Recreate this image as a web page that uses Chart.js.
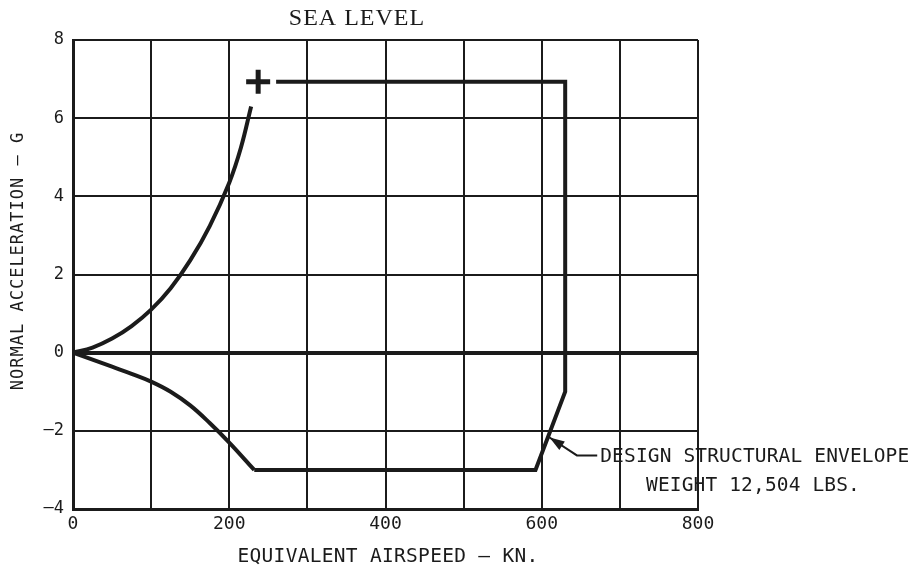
<!DOCTYPE html>
<html>
<head>
<meta charset="utf-8">
<script src="https://cdn.jsdelivr.net/npm/chart.js@4.4.1/dist/chart.umd.min.js"></script>
<style>
html,body{margin:0;padding:0;background:#fff;}
#wrap{width:913px;height:571px;}
</style>
</head>
<body>
<div id="wrap"><canvas id="chart" width="913" height="571"></canvas></div>
<script>
// V-n diagram, sea level
const titleText='SEA LEVEL';
const xTitle='EQUIVALENT AIRSPEED \u2013 KN.';
const yTitle='NORMAL ACCELERATION \u2013 G';
const noteLines=['DESIGN STRUCTURAL ENVELOPE','WEIGHT 12,504 LBS.'];

const xLabels=[0,200,400,600,800];   // labelled speeds, grid every 100
const yLabels=[-4,-2,0,2,4,6,8];

// positive stall boundary
const posSpeed=[0,25,50,75,100,125,150,175,200,215,228];
const posG=[0,0.13,0.36,0.68,1.1,1.65,2.36,3.24,4.35,5.25,6.3];
// negative stall boundary
const negSpeed=[0,25,50,75,100,125,150,175,200,232];
const negG=[0,-0.18,-0.36,-0.54,-0.74,-1.0,-1.35,-1.8,-2.3,-3];
// structural limits
const envSpeed=[260,630,630,592,232];
const envG=[6.93,6.93,-1,-3,-3];
// corner marker
const markSpeed=[237];
const markG=[6.93];
// leader of the note: tip, elbow, end
const noteSpeed=[610,645,671];
const noteG=[-2.17,-2.63,-2.63];

const pts=(xs,ys)=>xs.map((v,i)=>({x:v,y:ys[i]}));
const ink='#1b1b1b';
const mono='"DejaVu Sans Mono"';

const textPlugin={
  id:'texts',
  afterDraw(chart){
    const {ctx,scales:{x,y}}=chart;
    ctx.save();
    ctx.fillStyle=ink;
    ctx.strokeStyle=ink;
    // title
    ctx.font='24px "Liberation Serif"';
    ctx.textAlign='center';
    ctx.textBaseline='alphabetic';
    ctx.letterSpacing='1px';
    ctx.fillText(titleText,357,25);
    // axis titles
    ctx.font='19.5px '+mono;
    ctx.letterSpacing='0.3px';
    ctx.textBaseline='middle';
    ctx.fillText(xTitle,388,557);
    ctx.save();
    ctx.translate(19,261);
    ctx.rotate(-Math.PI/2);
    ctx.font='17px '+mono;
    ctx.letterSpacing='1px';
    ctx.fillText(yTitle,0,0);
    ctx.restore();
    // leader with arrow
    const p=noteSpeed.map((v,i)=>[x.getPixelForValue(v),y.getPixelForValue(noteG[i])]);
    ctx.lineWidth=2;
    ctx.beginPath();
    ctx.moveTo(p[0][0],p[0][1]);
    p.slice(1).forEach(q=>ctx.lineTo(q[0],q[1]));
    ctx.stroke();
    const a=Math.atan2(p[0][1]-p[1][1],p[0][0]-p[1][0]);
    ctx.beginPath();
    ctx.moveTo(p[0][0],p[0][1]);
    ctx.lineTo(p[0][0]-15*Math.cos(a)+5*Math.sin(a),p[0][1]-15*Math.sin(a)-5*Math.cos(a));
    ctx.lineTo(p[0][0]-15*Math.cos(a)-5*Math.sin(a),p[0][1]-15*Math.sin(a)+5*Math.cos(a));
    ctx.closePath();
    ctx.fill();
    // note text
    ctx.font='19.5px '+mono;
    ctx.letterSpacing='0.15px';
    ctx.textAlign='left';
    ctx.textBaseline='middle';
    ctx.fillText(noteLines[0],p[2][0]+3,p[2][1]+1);
    ctx.textAlign='center';
    ctx.fillText(noteLines[1],753,486);
    ctx.restore();
  }
};

new Chart(document.getElementById('chart'),{
  type:'scatter',
  data:{
    datasets:[
      {data:pts(posSpeed,posG),showLine:true,tension:0.4,borderColor:ink,borderWidth:4,pointRadius:0},
      {data:pts(negSpeed,negG),showLine:true,tension:0.4,borderColor:ink,borderWidth:4,pointRadius:0},
      {data:pts(envSpeed,envG),showLine:true,tension:0,borderColor:ink,borderWidth:4,pointRadius:0,borderJoinStyle:'miter'},
      {data:pts(markSpeed,markG),showLine:false,pointStyle:'cross',pointRadius:12,borderWidth:5,borderColor:ink}
    ]
  },
  options:{
    responsive:false,
    animation:false,
    layout:{padding:{top:40,right:215,left:0,bottom:0}},
    plugins:{legend:{display:false},tooltip:{enabled:false},title:{display:false}},
    scales:{
      x:{
        type:'linear',min:0,max:800,
        afterFit(s){s.height=62;},
        ticks:{stepSize:100,padding:5,color:ink,font:{family:'DejaVu Sans Mono',size:18},
          callback:v=>xLabels.includes(v)?String(v):''},
        grid:{color:ink,lineWidth:2,drawTicks:false},
        border:{color:ink,width:3}
      },
      y:{
        type:'linear',min:-4,max:8,
        afterFit(s){s.width=73;},
        ticks:{stepSize:2,padding:9,color:ink,font:{family:'DejaVu Sans Mono',size:17},
          callback:v=>yLabels.includes(v)?(v<0?'\u2013'+Math.abs(v):String(v)):''},
        grid:{color:ink,lineWidth:c=>c.tick&&c.tick.value===0?4:2,drawTicks:false},
        border:{color:ink,width:3}
      }
    }
  },
  plugins:[textPlugin]
});
</script>
</body>
</html>
